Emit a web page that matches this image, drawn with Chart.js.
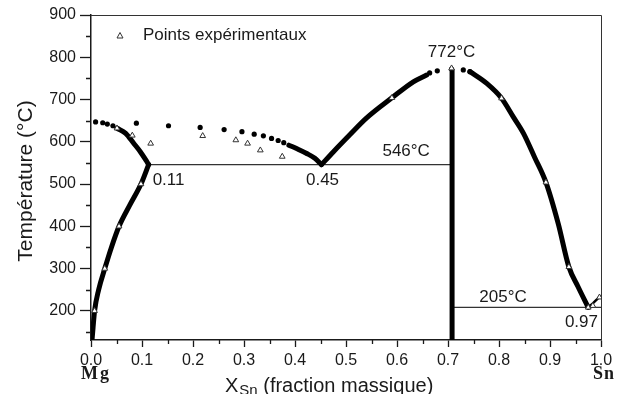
<!DOCTYPE html>
<html>
<head>
<meta charset="utf-8">
<script src="https://cdn.jsdelivr.net/npm/chart.js@4.4.0/dist/chart.umd.min.js"></script>
<style>
  html, body { margin: 0; padding: 0; background: #fff; }
</style>
</head>
<body>
<canvas id="phaseChart" width="626" height="394"></canvas>
<script>
// axis ticks
const xTickValues = [0, 0.1, 0.2, 0.3, 0.4, 0.5, 0.6, 0.7, 0.8, 0.9, 1.0];
const xMinorValues = [0.05, 0.15, 0.25, 0.35, 0.45, 0.55, 0.65, 0.75, 0.85, 0.95];
const yTickValues = [200, 300, 400, 500, 600, 700, 800, 900];
const yMinorValues = [150, 250, 350, 450, 550, 650, 750, 850];

// (Mg) solid solution limit
const solvusX = [0.002, 0.004, 0.007, 0.015, 0.027, 0.040, 0.055, 0.076, 0.098, 0.113];
const solvusT = [131, 160, 200, 250, 300, 350, 400, 450, 500, 546];

// liquidus, Mg side
const liqMgX = [0.051, 0.068, 0.084, 0.097, 0.108, 0.113];
const liqMgT = [632, 620, 596, 576, 556, 546];

// liquidus down to the eutectic at 0.45
const liqDownX = [0.388, 0.403, 0.422, 0.439, 0.452];
const liqDownT = [592, 584, 573, 561, 546];

// liquidus up to Mg2Sn
const liqUpX = [0.452, 0.475, 0.507, 0.540, 0.590, 0.632, 0.658];
const liqUpT = [546, 576, 616, 656, 704, 742, 758];

// liquidus between Mg2Sn and Sn
const liqSnX = [0.743, 0.776, 0.805, 0.828, 0.848, 0.870, 0.892, 0.916, 0.937, 0.955, 0.975];
const liqSnT = [766, 738, 703, 659, 620, 563, 504, 407, 304, 257, 208];

const liqEndX = [0.975, 0.986, 0.998];
const liqEndT = [208, 220, 234];

// Mg2Sn compound
const compoundX = [0.708, 0.708];
const compoundT = [131, 772];

// eutectic isotherms
const eutMgX = [0.113, 0.708];
const eutMgT = [546, 546];
const eutSnX = [0.708, 1.0];
const eutSnT = [208, 208];

// calculated points (filled dots)
const calcX = [0.009, 0.023, 0.032, 0.043, 0.089, 0.152, 0.214, 0.261, 0.296, 0.320, 0.338, 0.354, 0.367, 0.378, 0.664, 0.679, 0.707, 0.730, 0.743];
const calcT = [647, 645, 642, 638, 644, 638, 634, 629, 624, 618, 614, 608, 603, 598, 763, 768, 772, 770, 766];

// experimental points (open triangles)
const expX = [0.007, 0.027, 0.055, 0.098, 0.051, 0.081, 0.117, 0.219, 0.284, 0.307, 0.332, 0.375, 0.590, 0.707, 0.805, 0.892, 0.937, 0.975, 0.984, 0.997];
const expT = [200, 300, 400, 500, 632, 615, 596, 614, 604, 596, 580, 565, 704, 774, 703, 504, 304, 208, 212, 232];

const pts = (xs, ts) => xs.map((x, i) => ({ x: x, y: ts[i] }));

const FONT = '"Liberation Sans", Arial, sans-serif';
const INK = '#1a1a1a';

function thick(xs, ts, w) {
  return {
    data: pts(xs, ts), showLine: true, pointRadius: 0, borderWidth: w,
    borderColor: '#000', borderCapStyle: 'round', borderJoinStyle: 'round',
    cubicInterpolationMode: 'monotone'
  };
}
function thin(xs, ts) {
  return {
    data: pts(xs, ts), showLine: true, pointRadius: 0, borderWidth: 1.3,
    borderColor: '#333'
  };
}

const decor = {
  id: 'decor',
  afterDraw(chart) {
    const ctx = chart.ctx;
    const a = chart.chartArea;
    const sx = chart.scales.x, sy = chart.scales.y;
    ctx.save();

    // frame top / right
    ctx.strokeStyle = '#333';
    ctx.lineWidth = 1;
    ctx.beginPath();
    ctx.moveTo(a.left, a.top + 0.5);
    ctx.lineTo(a.right + 0.5, a.top + 0.5);
    ctx.lineTo(a.right + 0.5, a.bottom);
    ctx.stroke();

    // minor ticks
    ctx.strokeStyle = INK;
    ctx.lineWidth = 1.3;
    ctx.beginPath();
    xMinorValues.forEach(v => {
      const px = Math.round(sx.getPixelForValue(v)) + 0.5;
      ctx.moveTo(px, a.bottom);
      ctx.lineTo(px, a.bottom + 4);
    });
    yMinorValues.forEach(v => {
      const py = Math.round(sy.getPixelForValue(v)) + 0.5;
      ctx.moveTo(a.left - 5, py);
      ctx.lineTo(a.left, py);
    });
    ctx.stroke();

    // annotations
    ctx.fillStyle = INK;
    ctx.font = '17px ' + FONT;
    ctx.textBaseline = 'middle';
    ctx.textAlign = 'center';
    ctx.fillText('772°C', sx.getPixelForValue(0.707), sy.getPixelForValue(772) - 17);
    ctx.fillText('546°C', sx.getPixelForValue(0.618), sy.getPixelForValue(546) - 13);
    ctx.fillText('0.45', sx.getPixelForValue(0.452) + 1, sy.getPixelForValue(546) + 16);
    ctx.fillText('205°C', sx.getPixelForValue(0.808), sy.getPixelForValue(208) - 10);
    ctx.textAlign = 'left';
    ctx.fillText('0.11', sx.getPixelForValue(0.113) + 4, sy.getPixelForValue(546) + 16);
    ctx.textAlign = 'right';
    ctx.fillText('0.97', a.right - 3, sy.getPixelForValue(208) + 15);

    // legend
    ctx.strokeStyle = '#333';
    ctx.lineWidth = 1;
    ctx.fillStyle = '#fff';
    ctx.beginPath();
    ctx.moveTo(120, 32.5);
    ctx.lineTo(123, 38);
    ctx.lineTo(117, 38);
    ctx.closePath();
    ctx.fill();
    ctx.stroke();
    ctx.fillStyle = INK;
    ctx.textAlign = 'left';
    ctx.textBaseline = 'alphabetic';
    ctx.font = '17px ' + FONT;
    ctx.fillText('Points expérimentaux', 143, 40);

    // axis titles
    ctx.font = '21px ' + FONT;
    ctx.save();
    ctx.translate(32, 181);
    ctx.rotate(-Math.PI / 2);
    ctx.textAlign = 'center';
    ctx.fillText('Température (°C)', 0, 0);
    ctx.restore();

    ctx.font = '20px ' + FONT;
    ctx.textAlign = 'left';
    ctx.fillText('X', 225, 392);
    const wX = ctx.measureText('X').width;
    ctx.font = '15px ' + FONT;
    ctx.fillText('Sn', 225 + wX + 1, 395);
    const wSn = ctx.measureText('Sn').width;
    ctx.font = '20px ' + FONT;
    ctx.fillText(' (fraction massique)', 225 + wX + wSn + 1, 392);

    // element names
    ctx.font = 'bold 18px "Liberation Serif", "Times New Roman", serif';
    ctx.textAlign = 'left';
    ctx.fillText('M', 81, 379);
    ctx.fillText('g', 100, 379);
    ctx.fillText('S', 593, 379);
    ctx.fillText('n', 604, 379);
    ctx.restore();
  }
};

const ctx = document.getElementById('phaseChart').getContext('2d');
new Chart(ctx, {
  type: 'scatter',
  data: {
    datasets: [
      {
        label: 'Points expérimentaux', data: pts(expX, expT),
        pointStyle: 'triangle', pointRadius: 3.3, borderWidth: 1,
        borderColor: '#333', backgroundColor: '#fff'
      },
      {
        label: 'calc', data: pts(calcX, calcT),
        pointRadius: 2.6, borderWidth: 0, backgroundColor: '#000'
      },
      thick(solvusX, solvusT, 5),
      thick(liqMgX, liqMgT, 5),
      thick(liqDownX, liqDownT, 5),
      thick(liqUpX, liqUpT, 5),
      thick(liqSnX, liqSnT, 5),
      thick(liqEndX, liqEndT, 2.5),
      Object.assign(thick(compoundX, compoundT, 5), { borderCapStyle: 'butt', cubicInterpolationMode: 'default' }),
      thin(eutMgX, eutMgT),
      thin(eutSnX, eutSnT)
    ]
  },
  options: {
    responsive: false,
    animation: false,
    devicePixelRatio: 1,
    layout: { padding: { left: 0, right: 25, top: 15, bottom: 0 } },
    plugins: {
      legend: { display: false },
      tooltip: { enabled: false }
    },
    scales: {
      x: {
        type: 'linear', min: 0, max: 1,
        afterBuildTicks: s => { s.ticks = xTickValues.map(v => ({ value: v })); },
        afterFit: s => { s.height = 54; },
        ticks: {
          callback: v => Number(v).toFixed(1),
          font: { family: FONT, size: 16 }, color: INK,
          padding: 4, maxRotation: 0, autoSkip: false
        },
        grid: { drawOnChartArea: false, tickLength: 7, tickColor: INK, tickWidth: 1.3 },
        border: { color: INK, width: 1.5 }
      },
      y: {
        type: 'linear', min: 131, max: 900,
        afterBuildTicks: s => { s.ticks = yTickValues.map(v => ({ value: v })); },
        afterFit: s => { s.width = 91; },
        ticks: {
          font: { family: FONT, size: 16 }, color: INK, padding: 4
        },
        grid: { drawOnChartArea: false, tickLength: 11, tickColor: INK, tickWidth: 1.3 },
        border: { color: INK, width: 1.5 }
      }
    }
  },
  plugins: [decor]
});
</script>
</body>
</html>
